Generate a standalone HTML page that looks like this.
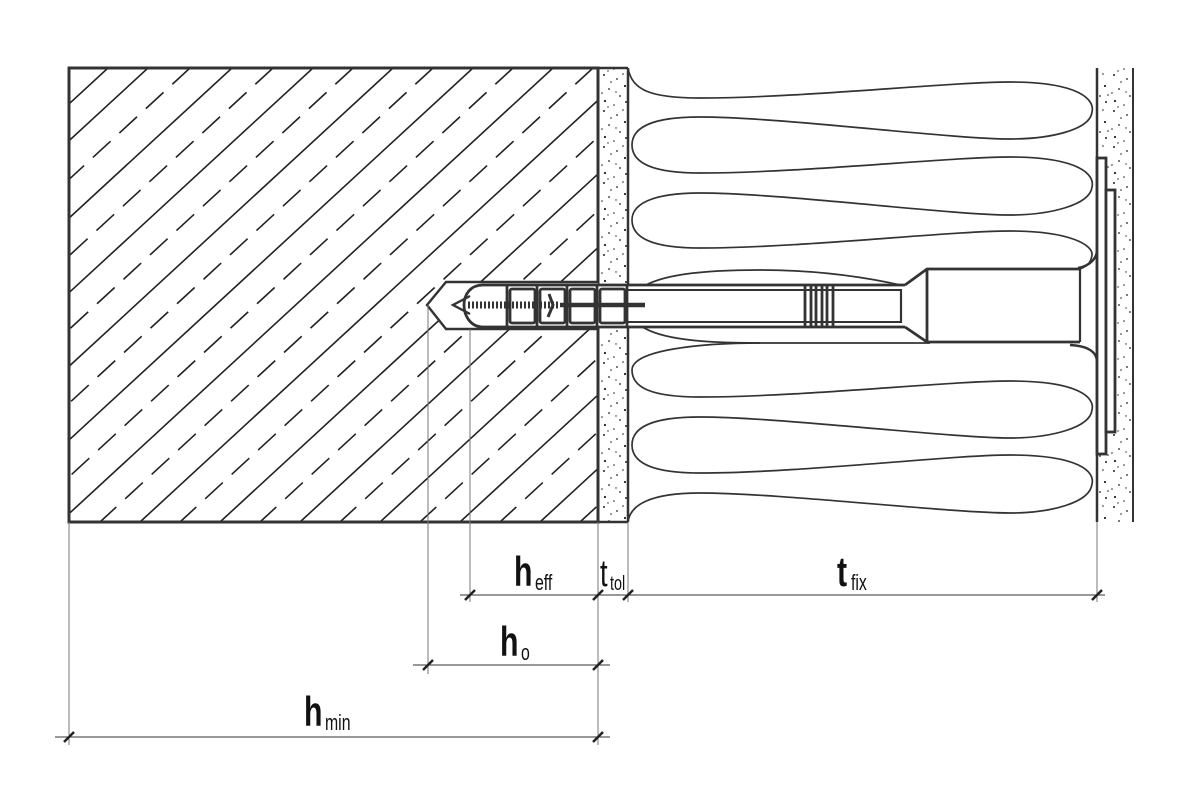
<!DOCTYPE html>
<html><head><meta charset="utf-8"><style>
html,body{margin:0;padding:0;background:#fff;}
svg{display:block;}
text{font-family:"Liberation Sans",sans-serif;fill:#111;}
</style></head><body>
<svg width="1200" height="800" viewBox="0 0 1200 800" xmlns="http://www.w3.org/2000/svg">
<defs>
<clipPath id="cc"><rect x="69" y="68" width="529" height="454"/></clipPath>
<pattern id="st" x="0" y="0" width="30" height="36" patternUnits="userSpaceOnUse">
<g fill="#222">
<circle cx="4" cy="3" r="1"/><circle cx="17" cy="7" r="0.9"/><circle cx="25" cy="14" r="1.1"/>
<circle cx="9" cy="17" r="0.9"/><circle cx="20" cy="24" r="0.9"/><circle cx="5" cy="29" r="1.1"/>
<circle cx="14" cy="33" r="0.8"/><circle cx="26" cy="30" r="1"/><circle cx="11" cy="10" r="0.8"/>
<circle cx="23" cy="2" r="0.8"/><circle cx="2" cy="21" r="0.8"/><circle cx="16" cy="20" r="0.7"/>
<circle cx="28" cy="23" r="0.8"/><circle cx="8" cy="35" r="0.7"/>
</g></pattern>
</defs>

<g clip-path="url(#cc)" stroke="#222" stroke-width="1.6">
<line x1="108" y1="68" x2="-385" y2="522"/>
<line x1="148" y1="68" x2="-345" y2="522"/>
<line x1="190" y1="68" x2="-303" y2="522" stroke-dasharray="24 12"/>
<line x1="232" y1="68" x2="-261" y2="522"/>
<line x1="273" y1="68" x2="-220" y2="522" stroke-dasharray="24 12"/>
<line x1="313" y1="68" x2="-180" y2="522"/>
<line x1="353" y1="68" x2="-140" y2="522" stroke-dasharray="24 12"/>
<line x1="393" y1="68" x2="-100" y2="522"/>
<line x1="433" y1="68" x2="-60" y2="522" stroke-dasharray="24 12"/>
<line x1="473" y1="68" x2="-20" y2="522"/>
<line x1="513" y1="68" x2="20" y2="522" stroke-dasharray="24 12"/>
<line x1="553" y1="68" x2="60" y2="522"/>
<line x1="593" y1="68" x2="100" y2="522" stroke-dasharray="24 12"/>
<line x1="633" y1="68" x2="140" y2="522"/>
<line x1="673" y1="68" x2="180" y2="522" stroke-dasharray="24 12"/>
<line x1="713" y1="68" x2="220" y2="522"/>
<line x1="753" y1="68" x2="260" y2="522" stroke-dasharray="24 12"/>
<line x1="793" y1="68" x2="300" y2="522"/>
<line x1="833" y1="68" x2="340" y2="522" stroke-dasharray="24 12"/>
<line x1="873" y1="68" x2="380" y2="522"/>
<line x1="913" y1="68" x2="420" y2="522" stroke-dasharray="24 12"/>
<line x1="953" y1="68" x2="460" y2="522"/>
<line x1="993" y1="68" x2="500" y2="522" stroke-dasharray="24 12"/>
<line x1="1033" y1="68" x2="540" y2="522"/>
<line x1="1073" y1="68" x2="580" y2="522" stroke-dasharray="24 12"/>
<line x1="1113" y1="68" x2="620" y2="522"/>
</g>
<rect x="69" y="68" width="529" height="454" fill="none" stroke="#333" stroke-width="3"/>

<rect x="598" y="68" width="30" height="454" fill="url(#st)"/>
<line x1="628" y1="68" x2="628" y2="522" stroke="#333" stroke-width="2.5"/>
<line x1="598" y1="68" x2="628" y2="68" stroke="#333" stroke-width="2.5"/>
<line x1="598" y1="522" x2="628" y2="522" stroke="#333" stroke-width="2.5"/>
<rect x="1097" y="68" width="36" height="454" fill="url(#st)"/>
<line x1="1097" y1="68" x2="1097" y2="522" stroke="#333" stroke-width="2.5"/>
<line x1="1133" y1="68" x2="1133" y2="522" stroke="#333" stroke-width="2"/>

<g fill="none" stroke="#333" stroke-width="1.7">
<path d="M628,68 C632,90 650,98 700,98 C800,98 950,82 1010,82 C1080,82 1095,100 1092,112 C1090,130 1050,139 1010,139 C950,139 780,117 700,117 C650,117 632,128 632,145 C632,162 650,173 700,173 C800,173 950,157 1010,157 C1080,157 1095,175 1092,187 C1090,205 1050,215 1010,215 C950,215 780,193 700,193 C650,193 632,205 632,220 C632,237 650,248 700,248 C800,248 950,231 1010,231 C1070,231 1093,245 1092,255 C1091,262 1088,266 1080,269"/>
<path d="M641,288 C660,275 700,270 760,270 C820,270 870,278 905,286"/>
<path d="M641,326 C660,339 700,343 760,343 L930,343"/>
<path d="M1070,345 C1088,346 1097,352 1097,362" stroke-width="2.5"/>
<path d="M1078,268 C1090,266 1097,258 1097,250" stroke-width="2.5"/>
<path d="M760,343 C700,343 632,350 632,370 C632,387 650,397 700,397 C800,397 950,381 1010,381 C1080,381 1095,398 1092,410 C1090,428 1050,438 1010,438 C950,438 780,417 700,417 C650,417 632,428 632,445 C632,462 650,473 700,473 C800,473 950,455 1010,455 C1080,455 1095,472 1092,484 C1090,503 1050,513 1010,513 C950,513 780,493 700,493 C650,493 630,505 628,522"/>
</g>

<rect x="1097" y="158" width="9" height="296" fill="#fff" stroke="#333" stroke-width="2.8"/>
<rect x="1106" y="190" width="9" height="242" fill="#fff" stroke="#333" stroke-width="2.8"/>

<g fill="none" stroke="#333">
<path d="M598,282 L446,282 L427,305 L446,329 L598,329" stroke-width="2.4" fill="#fff"/>
<path d="M905,285 L483,285 C470,285 464,295 464,305 C464,315 470,327 483,327 L905,327" stroke-width="2.8" fill="#fff"/>
<path d="M905,285 L927,269 L1080,269 M905,327 L927,342 L1080,342" stroke-width="2.8"/>
<line x1="927" y1="269" x2="927" y2="342" stroke-width="2.8"/>
<line x1="1080" y1="269" x2="1080" y2="342" stroke-width="2.2"/>
<line x1="901" y1="289" x2="901" y2="323" stroke-width="2.2"/>
<path d="M627,290 L901,290 M627,322 L901,322" stroke-width="2"/>
<g stroke-width="2.8">
<rect x="510" y="289" width="25" height="34" rx="2"/>
<rect x="540" y="289" width="25" height="34" rx="2"/>
<rect x="570" y="289" width="25" height="34" rx="2"/>
<rect x="600" y="289" width="25" height="34" rx="2"/>
<line x1="507" y1="285" x2="507" y2="327"/>
<line x1="537" y1="285" x2="537" y2="327"/>
<line x1="567" y1="285" x2="567" y2="327"/>
<line x1="597" y1="285" x2="597" y2="327"/>
<line x1="627" y1="285" x2="627" y2="327"/>
<line x1="805" y1="285" x2="805" y2="327"/>
<line x1="811" y1="285" x2="811" y2="327"/>
<line x1="816" y1="285" x2="816" y2="327"/>
<line x1="822" y1="285" x2="822" y2="327"/>
<line x1="827" y1="285" x2="827" y2="327"/>
<line x1="833" y1="285" x2="833" y2="327"/>
</g>
<path d="M470,296 L453,305 L470,314" stroke-width="2.4"/>
<line x1="468" y1="305" x2="560" y2="305" stroke-width="7" stroke-dasharray="2 2"/>
<line x1="560" y1="305" x2="645" y2="305" stroke-width="4.5"/>
<path d="M549,294 L553,305 L548,317" stroke-width="3"/>
</g>

<g stroke="#777" stroke-width="1">
<line x1="69" y1="522" x2="69" y2="745"/>
<line x1="598" y1="522" x2="598" y2="745"/>
<line x1="628" y1="522" x2="628" y2="602"/>
<line x1="1097" y1="522" x2="1097" y2="602"/>
<line x1="470" y1="329" x2="470" y2="602"/>
<line x1="428" y1="305" x2="428" y2="674"/>
</g>
<g stroke="#333" stroke-width="1">
<line x1="460" y1="595" x2="1105" y2="595"/>
<line x1="413" y1="665" x2="610" y2="665"/>
<line x1="55" y1="737" x2="610" y2="737"/>
</g>
<g stroke="#222" stroke-width="2.5">
<line x1="465" y1="600" x2="475" y2="590"/>
<line x1="593" y1="600" x2="603" y2="590"/>
<line x1="623" y1="600" x2="633" y2="590"/>
<line x1="1092" y1="600" x2="1102" y2="590"/>
<line x1="423" y1="670" x2="433" y2="660"/>
<line x1="593" y1="670" x2="603" y2="660"/>
<line x1="64" y1="742" x2="74" y2="732"/>
<line x1="593" y1="742" x2="603" y2="732"/>
</g>

<g>
<text transform="translate(514,586) scale(0.72,1)" font-size="42" font-weight="bold">h</text>
<text transform="translate(535,590) scale(0.72,1)" font-size="22">eff</text>
<text transform="translate(600,586) scale(0.72,1)" font-size="38">t</text>
<text transform="translate(610,590) scale(0.72,1)" font-size="20">tol</text>
<text transform="translate(837,586) scale(0.72,1)" font-size="42" font-weight="bold">t</text>
<text transform="translate(851,590) scale(0.72,1)" font-size="22">fix</text>
<text transform="translate(500,656) scale(0.72,1)" font-size="42" font-weight="bold">h</text>
<text transform="translate(521,660) scale(0.72,1)" font-size="22">o</text>
<text transform="translate(304,726) scale(0.72,1)" font-size="42" font-weight="bold">h</text>
<text transform="translate(325,730) scale(0.72,1)" font-size="22">min</text>
</g>
</svg>
</body></html>
